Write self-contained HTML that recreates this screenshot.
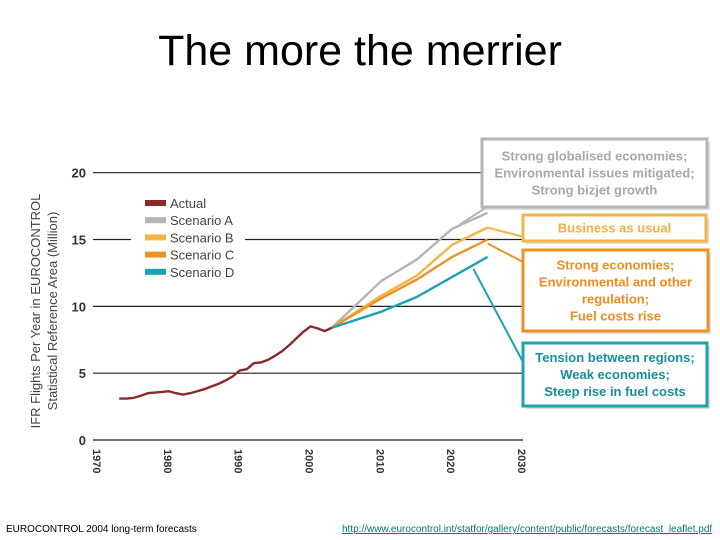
<!DOCTYPE html>
<html><head><meta charset="utf-8"><style>
body{margin:0;background:#fff;width:720px;height:540px;overflow:hidden;font-family:"Liberation Sans",sans-serif}
#title{position:absolute;left:0;top:27px;width:720px;text-align:center;font-size:43px;color:#000}
.foot{position:absolute;top:524px;font-size:10px;color:#000}
</style></head><body>
<div id="title">The more the merrier</div>
<svg id="chart" width="720" height="540" style="position:absolute;left:0;top:0"></svg>
<div class="foot" style="left:6px">EUROCONTROL 2004 long-term forecasts</div>
<div class="foot" style="left:342px;color:#007a78;text-decoration:underline;font-size:10px">http://www.eurocontrol.int/statfor/gallery/content/public/forecasts/forecast_leaflet.pdf</div>
<script>
const actualYears=[1973,1974,1975,1976,1977,1978,1979,1980,1981,1982,1983,1984,1985,1986,1987,1988,1989,1990,1991,1992,1993,1994,1995,1996,1997,1998,1999,2000,2001,2002,2003];
const actualValues=[3.1,3.1,3.15,3.3,3.5,3.55,3.6,3.65,3.5,3.4,3.5,3.65,3.8,4.0,4.2,4.45,4.75,5.2,5.3,5.75,5.8,6.0,6.3,6.65,7.1,7.6,8.1,8.5,8.35,8.15,8.4];
const scenarioYears=[2003,2010,2015,2020,2025];
const scenarioA=[8.4,11.9,13.5,15.8,17.0];
const scenarioB=[8.4,10.8,12.3,14.6,15.9];
const scenarioC=[8.4,10.6,12.0,13.7,15.0];
const scenarioD=[8.4,9.6,10.7,12.2,13.7];
const yTicks=[0,5,10,15,20];
const xTicks=[1970,1980,1990,2000,2010,2020,2030];
const legendLabels=["Actual","Scenario A","Scenario B","Scenario C","Scenario D"];
const colors=["#8b2a2a","#b5b5b8","#f3b547","#ef9225","#1aa3b0"];
const NS="http://www.w3.org/2000/svg";
const svg=document.getElementById('chart');
const X=y=>98+(y-1970)*(425/60);
const Y=v=>440-v*(267.3/20);
function mk(t,a,p){const e=document.createElementNS(NS,t);for(const k in a)e.setAttribute(k,a[k]);(p||svg).appendChild(e);return e;}
yTicks.forEach(v=>{
  if(v===15){
    const g1=mk('line',{x1:93,x2:131,y1:Y(v),y2:Y(v),stroke:'#222','stroke-width':1.2});
    
    const g2=mk('line',{x1:245,x2:523,y1:Y(v),y2:Y(v),stroke:'#222','stroke-width':1.2});
    
  } else {
    const g=mk('line',{x1:93,x2:v===20?482:523,y1:Y(v),y2:Y(v),stroke:'#222','stroke-width':1.2});
    
  }
  const t=mk('text',{x:86,y:Y(v)+5,'text-anchor':'end','font-size':13,'font-weight':'bold',fill:'#333'});
  t.textContent=v;
  
});
xTicks.forEach(yr=>{
  const t=mk('text',{transform:`translate(${X(yr)-5},449) rotate(90)`,'font-size':11,'font-weight':'bold',fill:'#333'});
  t.textContent=yr;
  
});
const yt=mk('text',{transform:'translate(40,311) rotate(-90)','text-anchor':'middle','font-size':13,fill:'#444'});
yt.textContent='IFR Flights Per Year in EUROCONTROL';

const yt2=mk('text',{transform:'translate(57,311) rotate(-90)','text-anchor':'middle','font-size':13,fill:'#444'});
yt2.textContent='Statistical Reference Area (Million)';

function line(xs,vs,c,name){
  const p=mk('polyline',{points:xs.map((x,i)=>X(x)+','+Y(vs[i])).join(' '),fill:'none',stroke:c,'stroke-width':2.4,'stroke-linejoin':'round'});
  
}
const con=[[X(2021),Y(16.1),498,200,colors[1]],[X(2025),Y(15.9),523,Y(15.2),colors[2]],[X(2025),Y(14.7),523,262,colors[3]],[X(2023),Y(12.8),523,362,colors[4]]];
con.forEach((c,i)=>{const l=mk('line',{x1:c[0],y1:c[1],x2:c[2],y2:c[3],stroke:c[4],'stroke-width':2});
 });
line(scenarioYears,scenarioA,colors[1],'series-scenario-a');
line(scenarioYears,scenarioB,colors[2],'series-scenario-b');
line(scenarioYears,scenarioC,colors[3],'series-scenario-c');
line(scenarioYears,scenarioD,colors[4],'series-scenario-d');
line(actualYears,actualValues,colors[0],'series-actual');
legendLabels.forEach((lb,i)=>{
  const y=203+i*17.2;
  const r=mk('rect',{x:145,y:y-3,width:21,height:6,fill:colors[i]});
  
  const t=mk('text',{x:170,y:y+5,'font-size':13,fill:'#444'});t.textContent=lb;
  
});
const boxes=[[482,139,225,68,colors[1],'#a8a8aa',["Strong globalised economies;","Environmental issues mitigated;","Strong bizjet growth"],'annotation-scenario-a'],
[523,215,183,26,colors[2],'#f0b040',["Business as usual"],'annotation-scenario-b'],
[523,250,185,81,colors[3],'#ee8c1e',["Strong economies;","Environmental and other","regulation;","Fuel costs rise"],'annotation-scenario-c'],
[523,343,184,63,colors[4],'#178e98',["Tension between regions;","Weak economies;","Steep rise in fuel costs"],'annotation-scenario-d']];
boxes.forEach(b=>{
  const g=mk('g',{});
  mk('rect',{x:b[0]+3,y:b[1]+3,width:b[2],height:b[3],fill:'#ddd'},g);
  mk('rect',{x:b[0],y:b[1],width:b[2],height:b[3],fill:'#fff',stroke:b[4],'stroke-width':3},g);
  const n=b[6].length,lh=17,top=b[1]+b[3]/2-(n-1)*lh/2+4.5;
  b[6].forEach((s,i)=>{const t=mk('text',{x:b[0]+b[2]/2,y:top+i*lh,'text-anchor':'middle','font-size':13,'font-weight':'bold',fill:b[5]},g);t.textContent=s;});
});
</script>
</body></html>
